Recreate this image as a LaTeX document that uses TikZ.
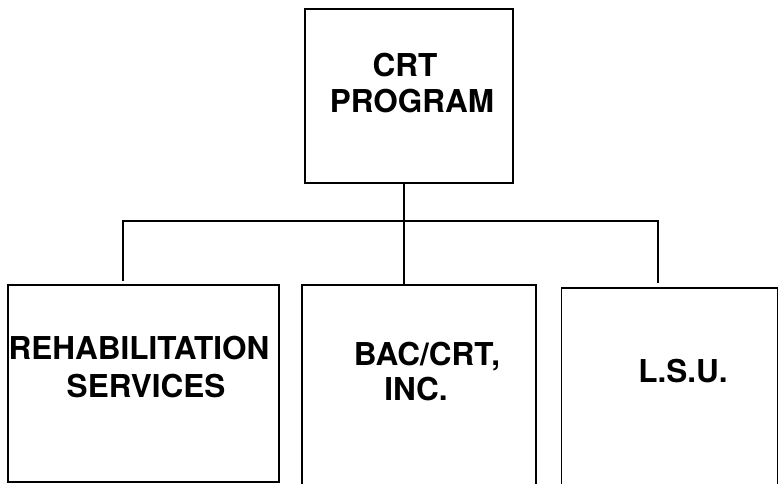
\documentclass[tikz,border=0pt]{standalone}
\usepackage{fontspec}
\setmainfont{TeX Gyre Heros}
\begin{document}
\begin{tikzpicture}[x=1bp,y=-1bp,
  orgbox/.style={draw=black,line width=1.2pt,rectangle,inner sep=0pt},
  lbl/.style={font=\bfseries\fontsize{31.5bp}{36bp}\selectfont,anchor=base,inner sep=0pt},
  conn/.style={draw=black,line width=1.1pt}]
\useasboundingbox (0,0) rectangle (779,484);
\clip (0,0) rectangle (779,484);
% boxes
\node[orgbox,minimum width=208bp,minimum height=174bp] (top) at (409,96) {};
\node[orgbox,minimum width=271bp,minimum height=197bp] (left) at (143.5,383.5) {};
\node[orgbox,minimum width=234bp,minimum height=215bp] (mid) at (419,392.5) {};
\node[orgbox,minimum width=216bp,minimum height=212bp] (right) at (669.5,394) {};
% labels
\node[lbl] (crt1) at (405,77) {CRT};
\node[lbl] (crt2) at (412,113) {PROGRAM};
\node[lbl] (reh1) at (139,359) {REHABILITATION};
\node[lbl] (reh2) at (146,397) {SERVICES};
\node[lbl] (bac1) at (427,365) {BAC/CRT,};
\node[lbl] (bac2) at (416,400) {INC.};
\node[lbl] (lsu) at (683,382) {L.S.U.};
% connectors
\coordinate (busC) at (404,221);
\coordinate (busL) at (123,221);
\coordinate (busR) at (658,221);
\coordinate (dropL) at (123,281);
\coordinate (dropR) at (658,283);
\draw[conn] (top.south -| busC) -- (busC) -- (mid.north -| busC);
\draw[conn] (dropL) -- (busL) -- (busR) -- (dropR);
\end{tikzpicture}
\end{document}
